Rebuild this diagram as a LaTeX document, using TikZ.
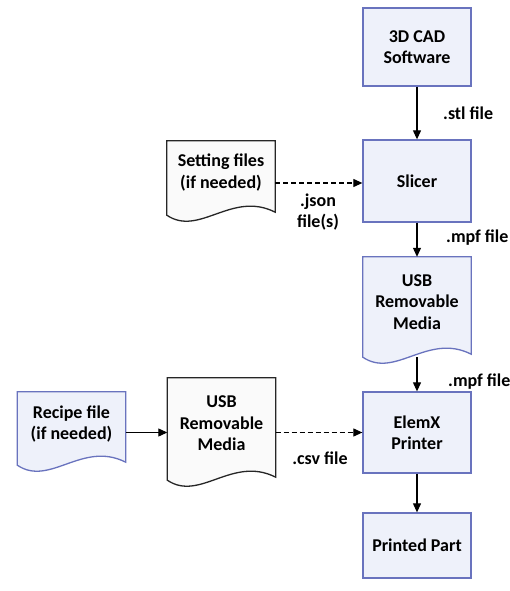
\documentclass[tikz,border=0pt]{standalone}
\usepackage{fontspec}
\setmainfont{Carlito}
\usetikzlibrary{arrows.meta,calc,backgrounds}
\definecolor{bord}{RGB}{105,115,190}
\definecolor{boxfill}{RGB}{238,241,250}
\definecolor{docfill}{RGB}{250,250,250}
\tikzset{
  txt/.style={font=\fontsize{18bp}{21.5bp}\selectfont\bfseries, align=center},
  procbox/.style={draw=bord, fill=boxfill, line width=1.3bp, minimum width=108bp, inner sep=0pt, rectangle, txt},
  docbox/.style={draw=none, minimum width=108bp, inner sep=0pt, rectangle},
  arr/.style={-{Triangle[length=9bp,width=8bp]}, line width=1.1bp, black},
  darr/.style={arr, dash pattern=on 5bp off 3bp},
  lab/.style={txt, inner sep=0pt}
}
\newcommand\mydocpath[3]{%
  \draw[draw=#2, fill=#3, line width=1.3bp]
    (#1.north west) -- (#1.north east) -- ($(#1.south east)+(0,-3)$)
    .. controls ($(#1.south west)!0.6!(#1.south east)+(0,-25)$)
    and ($(#1.south west)!0.3!(#1.south east)+(0,22)$) .. (#1.south west) -- cycle;
}
\begin{document}
\begin{tikzpicture}[x=1bp,y=-1bp]
\useasboundingbox (0,0) rectangle (510,591);

% main column
\node[procbox, minimum height=78bp] (cad) at (417,47) {3D CAD\\Software};
\node[procbox, minimum height=82bp] (slicer) at (417,181) {Slicer};
\node[docbox, minimum height=100bp,
  label={[txt, yshift=5bp]center:USB\\Removable\\Media}] (usbr) at (417,307) {};
\node[procbox, minimum height=81bp] (elemx) at (417,432.5) {ElemX\\Printer};
\node[procbox, minimum height=65bp] (part) at (417,545.5) {Printed Part};

% left documents
\node[docbox, minimum height=74bp,
  label={[txt, yshift=5.5bp]center:Setting files\\(if needed)}] (setting) at (221,178) {};
\node[docbox, minimum height=73bp,
  label={[txt, yshift=4.5bp]center:Recipe file\\(if needed)}] (recipe) at (71.5,428.5) {};
\node[docbox, minimum height=102bp,
  label={[txt, yshift=5.5bp]center:USB\\Removable\\Media}] (usbl) at (221.5,429) {};

\begin{scope}[on background layer]
  \fill[white] (0,0) rectangle (510,591);
  \mydocpath{usbr}{bord}{boxfill}
  \mydocpath{setting}{black!85}{docfill}
  \mydocpath{recipe}{bord}{boxfill}
  \mydocpath{usbl}{black!85}{docfill}
\end{scope}

% connectors
\draw[arr] (cad) -- (slicer);
\draw[arr] (slicer) -- (usbr);
\draw[arr] (usbr.south) -- (elemx.north);
\draw[arr] (elemx) -- (part);
\draw[darr] (setting.east |- 0,183) -- (slicer.west |- 0,183);
\draw[arr] (recipe.east |- elemx.west) -- (usbl.west |- elemx.west);
\draw[darr] (usbl.east |- elemx.west) -- (elemx.west);

% connector labels
\node[lab, anchor=west] (lstl) at (443,113) {.stl file};
\node[lab, anchor=west] (lmpf1) at (446,238) {.mpf file};
\node[lab, anchor=west] (lmpf2) at (448,382) {.mpf file};
\node[lab] (ljson) at (318,212) {.json\\file(s)};
\node[lab] (lcsv) at (320,458) {.csv file};
\end{tikzpicture}
\end{document}
